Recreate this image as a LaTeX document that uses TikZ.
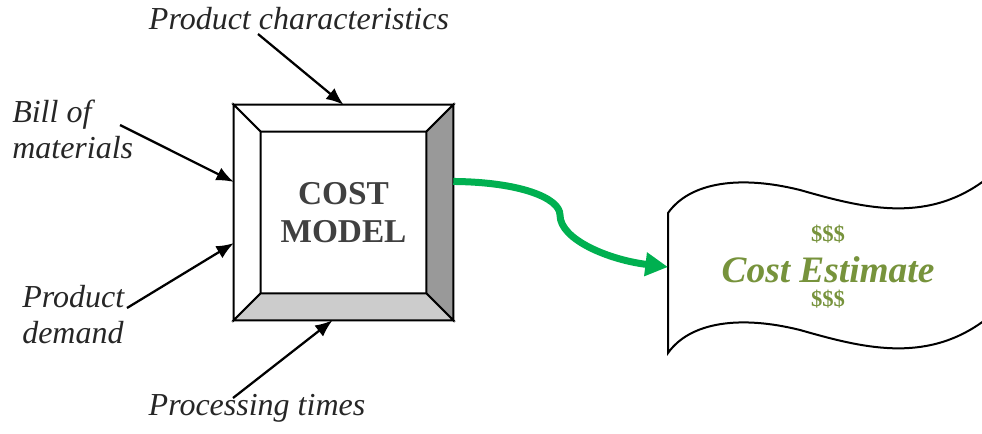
\documentclass[tikz,border=0pt]{standalone}
\usepackage{fontspec}
\setmainfont{Liberation Serif}
\usetikzlibrary{arrows.meta,calc}
\definecolor{estgreen}{HTML}{77933C}
\definecolor{flowgreen}{HTML}{00B050}
\definecolor{modelgray}{HTML}{404040}

\begin{document}
\begin{tikzpicture}[x=0.75pt,y=-0.75pt,>={Latex[length=13pt,width=10.5pt]},
    input/.style={font=\fontsize{24}{27}\selectfont\itshape,text=black!85,inner sep=0pt,align=left},
    feed/.style={->,line width=1.7pt},
    face/.style={draw=black,line width=1.5pt,line join=miter},
    sheet/.style={draw=black,line width=1.5pt,fill=white}]
    \useasboundingbox (0,0) rectangle (982,433);

    % the model block, bevelled
    \node [minimum width=164.25pt,minimum height=161.25pt,inner sep=0pt] (model) at (343.5,212.5) {};
    \filldraw [face,fill=white] (model.north west) -- (model.north east) -- ($(model.north east)+(-27,27)$) -- ($(model.north west)+(27,27)$) -- cycle;
    \filldraw [face,fill=white] (model.north west) -- ($(model.north west)+(27,27)$) -- ($(model.south west)+(27,-27)$) -- (model.south west) -- cycle;
    \filldraw [face,fill=black!40] (model.north east) -- (model.south east) -- ($(model.south east)+(-27,-27)$) -- ($(model.north east)+(-27,27)$) -- cycle;
    \filldraw [face,fill=black!20] (model.south west) -- (model.south east) -- ($(model.south east)+(-27,-27)$) -- ($(model.south west)+(27,-27)$) -- cycle;
    \node [font=\fontsize{25}{28}\selectfont\bfseries,text=modelgray,align=center] (modeltext) at (model.center) {COST\\MODEL};

    % inputs
    \node [input,anchor=base] (chars) at (299,29) {Product characteristics};
    \node [input,anchor=west] (bom) at (12,129) {Bill of\\materials};
    \node [input,anchor=west] (demand) at (22,315) {Product\\demand};
    \node [input,anchor=base] (times) at (257,415) {Processing times};
    \coordinate (chars-tail) at (258,34);
    \coordinate (bom-tail) at (120,125);
    \coordinate (demand-tail) at (127,308);
    \coordinate (times-tail) at (233,398);
    \draw [feed] (chars-tail) -- (model.north);
    \draw [feed] (bom-tail) -- ($(model.north west)!0.358!(model.south west)$);
    \draw [feed] (demand-tail) -- ($(model.north west)!0.642!(model.south west)$);
    \draw [feed] (times-tail) -- ($(model.south west)!0.45!(model.south east)$);

    % the estimate sheet
    \draw [sheet] (985,180) .. controls (925,225) and (860,207) .. (800,190)
        .. controls (740,175) and (690,182) .. (668,213) -- (668,353)
        .. controls (690,322) and (740,315) .. (800,330)
        .. controls (860,347) and (925,365) .. (985,320);
    \coordinate (sheet-in) at (668,267);
    \node [font=\fontsize{28}{32}\selectfont\bfseries\itshape,text=estgreen,anchor=base] (est) at (828,282) {Cost Estimate};
    \node [font=\fontsize{17}{19}\selectfont\bfseries,text=estgreen,anchor=base] (dollars-up) at (828,241) {\$\$\$};
    \node [font=\fontsize{17}{19}\selectfont\bfseries,text=estgreen,anchor=base] (dollars-down) at (828,306) {\$\$\$};

    % output flow
    \draw [-{Triangle[length=17pt,width=17pt]},line width=5.25pt,flowgreen]
        ($(model.north east)!0.356!(model.south east)$) .. controls (520,182) and (560,198) .. (560,215)
        .. controls (560,240) and (610,260) .. (sheet-in);
\end{tikzpicture}
\end{document}
